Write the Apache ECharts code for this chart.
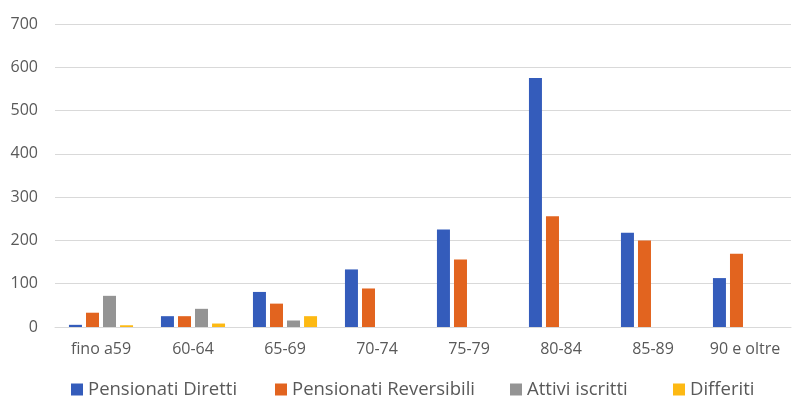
<!DOCTYPE html>
<html>
<head>
<meta charset="utf-8">
<script src="https://cdn.jsdelivr.net/npm/echarts@6/dist/echarts.min.js"></script>
<style>
  html, body { margin: 0; padding: 0; background: #ffffff; }
  #chart { width: 792px; height: 400px; }
</style>
</head>
<body>
<div id="chart"></div>
<script>
// Age bands
const categories = ['fino a59', '60-64', '65-69', '70-74', '75-79', '80-84', '85-89', '90 e oltre'];

// Series names
const seriesNames = ['Pensionati Diretti', 'Pensionati Reversibili', 'Attivi iscritti', 'Differiti'];

// Counts per age band
const pensionatiDiretti = [5, 25, 81, 133, 225, 575, 218, 113];
const pensionatiReversibili = [33, 25, 54, 89, 156, 256, 200, 169];
const attiviIscritti = [72, 42, 15, null, null, null, null, null];
const differiti = [4, 8, 25, null, null, null, null, null];

// Value axis ticks
const yMin = 0, yMax = 700, yStep = 100;

const fontFamily = '"Open Sans", "Noto Sans", sans-serif';
const textColor = '#595959';
const colors = ['#345cbb', '#e2641f', '#949494', '#fdb913'];

// Horizontal start of each legend entry
const legendLefts = [71, 275, 510, 673];

const chart = echarts.init(document.getElementById('chart'), null, { renderer: 'canvas' });

function barSeries(name, data, color) {
  return {
    name: name,
    type: 'bar',
    data: data,
    barWidth: 13,
    barGap: '31%',
    itemStyle: { color: color },
    emphasis: { disabled: true }
  };
}

const legends = seriesNames.map((name, i) => ({
  top: 380,
  left: legendLefts[i],
  padding: 0,
  itemWidth: 12,
  itemHeight: 12,
  icon: 'rect',
  textStyle: { fontFamily: fontFamily, fontSize: 18.5, color: textColor },
  data: [name]
}));

chart.setOption({
  animation: false,
  color: colors,
  grid: { left: 55, right: 1, top: 24, bottom: 73, containLabel: false },
  legend: legends,
  xAxis: {
    type: 'category',
    data: categories,
    axisLine: { lineStyle: { color: '#d9d9d9', width: 1 } },
    axisTick: { show: false },
    axisLabel: { fontFamily: fontFamily, fontSize: 16, color: textColor, margin: 14 }
  },
  yAxis: {
    type: 'value',
    min: yMin,
    max: yMax,
    interval: yStep,
    axisLine: { show: false },
    axisTick: { show: false },
    splitLine: { lineStyle: { color: '#d9d9d9', width: 1 } },
    axisLabel: { fontFamily: fontFamily, fontSize: 16, color: textColor, margin: 17 }
  },
  series: [
    barSeries(seriesNames[0], pensionatiDiretti, colors[0]),
    barSeries(seriesNames[1], pensionatiReversibili, colors[1]),
    barSeries(seriesNames[2], attiviIscritti, colors[2]),
    barSeries(seriesNames[3], differiti, colors[3])
  ]
});
</script>
</body>
</html>
